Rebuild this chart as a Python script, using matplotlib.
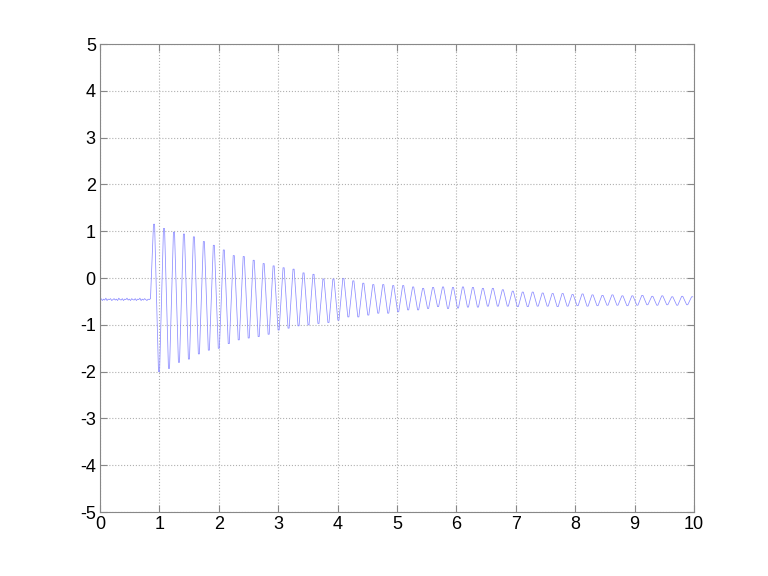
import numpy as np
import matplotlib
matplotlib.use("Agg")
import matplotlib.pyplot as plt

# ---- data ----
# quiet segment before the onset (t from 0 to 0.85 s)
pre_vals = [-0.46, -0.44, -0.48, -0.45, -0.47, -0.43, -0.48, -0.45, -0.46, -0.44,
            -0.48, -0.46, -0.44, -0.47, -0.45, -0.48, -0.43, -0.46, -0.47, -0.44,
            -0.48, -0.45, -0.46, -0.43, -0.47, -0.45, -0.48, -0.44, -0.46, -0.47,
            -0.44, -0.48, -0.45, -0.46, -0.43, -0.48, -0.45, -0.47, -0.44, -0.46,
            -0.48, -0.45, -0.46, -0.44]
pre_start, pre_end = 0.0, 0.85

# oscillation: one peak and one trough per cycle
first_peak_t = 0.91
last_peak_t = 9.97
peak_vals = [1.15, 1.06, 0.98, 0.94, 0.88, 0.78, 0.70, 0.60, 0.48, 0.46,
             0.38, 0.31, 0.26, 0.22, 0.19, 0.11, 0.08, -0.02, -0.02, -0.01,
             -0.06, -0.11, -0.14, -0.14, -0.16, -0.16, -0.19, -0.22, -0.20, -0.19,
             -0.20, -0.19, -0.20, -0.22, -0.22, -0.25, -0.28, -0.30, -0.30, -0.32,
             -0.33, -0.33, -0.35, -0.34, -0.36, -0.37, -0.36, -0.38, -0.38, -0.37,
             -0.39, -0.38, -0.40, -0.39, -0.40]
trough_vals = [-2.00, -1.93, -1.80, -1.73, -1.62, -1.54, -1.50, -1.40, -1.32, -1.28,
               -1.25, -1.20, -1.11, -1.07, -1.02, -1.00, -0.97, -0.95, -0.90, -0.83,
               -0.83, -0.79, -0.75, -0.75, -0.72, -0.68, -0.68, -0.65, -0.61, -0.65,
               -0.64, -0.62, -0.62, -0.60, -0.60, -0.60, -0.61, -0.61, -0.60, -0.60,
               -0.61, -0.60, -0.59, -0.60, -0.59, -0.58, -0.58, -0.59, -0.58, -0.57,
               -0.58, -0.57, -0.58, -0.57, -0.56]

xticks = [0, 1, 2, 3, 4, 5, 6, 7, 8, 9, 10]
yticks = [-5, -4, -3, -2, -1, 0, 1, 2, 3, 4, 5]

# ---- assemble the trace ----
t_pre = np.linspace(pre_start, pre_end, len(pre_vals))
n = len(peak_vals)
t_peak = np.linspace(first_peak_t, last_peak_t, n)
half = (t_peak[1] - t_peak[0]) / 2
t_trough = t_peak + half
dwell = 0.22 * half  # rounded extrema: hold each extreme briefly

t = list(t_pre)
y = list(pre_vals)
for tp, pv, tt, tv in zip(t_peak, peak_vals, t_trough, trough_vals):
    t += [tp - dwell / 2, tp + dwell / 2, tt - dwell / 2, tt + dwell / 2]
    y += [pv, pv, tv, tv]
t = np.array(t)
y = np.array(y)
mask = t <= 10
t, y = t[mask], y[mask]

# ---- draw ----
plt.rcParams['font.family'] = ['Liberation Sans', 'DejaVu Sans']
plt.rcParams['axes.unicode_minus'] = False
fig = plt.figure(figsize=(7.68, 5.76), dpi=100)
ax = fig.add_axes([0.1302, 0.111, 0.7734, 0.8125])
ax.plot(t, y, color=(0.55, 0.55, 1.0), lw=0.55)

ax.set_xlim(0, 10)
ax.set_ylim(-5, 5)
ax.set_xticks(xticks)
ax.set_yticks(yticks)
ax.grid(True, linestyle=':', color='#b0b0b0', linewidth=0.8)
for s in ax.spines.values():
    s.set_color('#888888')
    s.set_linewidth(0.8)
ax.tick_params(direction='in', top=True, right=True, length=5,
               color='#888888', labelsize=13, labelcolor='black', pad=3)

fig.savefig('out.png', dpi=100)
